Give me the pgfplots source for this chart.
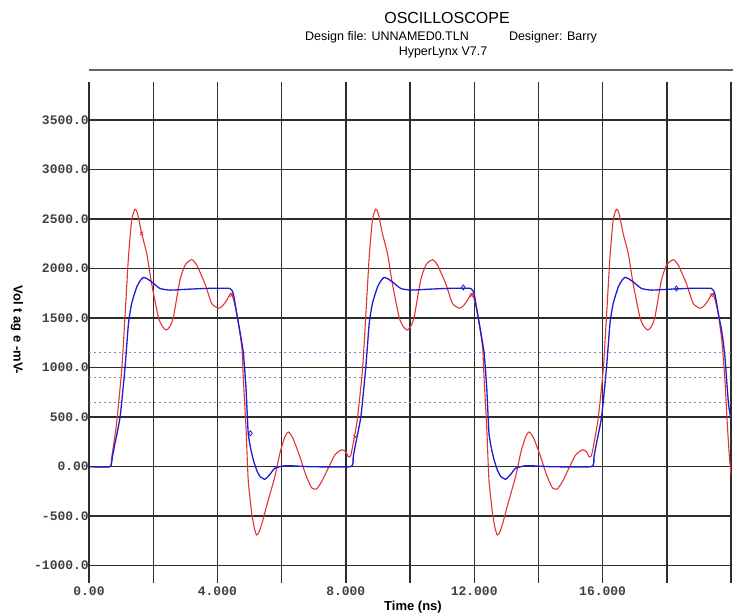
\documentclass[border=0pt]{standalone}
\usepackage{fontspec}
\setmainfont{Liberation Sans}
\setmonofont{Liberation Mono}
\usepackage{pgfplots}
\pgfplotsset{compat=1.18}

\definecolor{scopered}{RGB}{226,52,52}
\definecolor{scopeblue}{RGB}{28,28,210}
\definecolor{refblue}{RGB}{130,130,205}
\definecolor{gridgray}{RGB}{45,45,45}

\begin{document}
\begin{tikzpicture}
\useasboundingbox (0,0) rectangle (734pt,614pt);

% header
\node[font=\fontsize{16}{18}\selectfont] at (447pt,596pt) {OSCILLOSCOPE};
\node[font=\fontsize{12.5}{14}\selectfont] at (387pt,576.5pt) {Design file: UNNAMED0.TLN};
\node[font=\fontsize{12.5}{14}\selectfont] at (553pt,576.5pt) {Designer: Barry};
\node[font=\fontsize{12.5}{14}\selectfont] at (443pt,561pt) {HyperLynx V7.7};
\draw[black!60, line width=2pt] (89pt,544pt) -- (733pt,544pt);

\begin{axis}[
  at={(89pt,31pt)}, anchor=south west,
  scale only axis, width=642pt, height=501pt,
  xmin=0, xmax=20, ymin=-1175, ymax=3885,
  axis line style={draw=none},
  major tick length=0pt,
  xtick={0,2,...,20},
  xticklabels={0.00,,4.000,,8.000,,12.000,,16.000,,},
  ytick={-1000,-500,...,3500},
  yticklabels={-1000.0,-500.0,0.00,500.0,1000.0,1500.0,2000.0,2500.0,3000.0,3500.0},
  ticklabel style={font=\ttfamily\bfseries\fontsize{13}{14}\selectfont, text=black!75},
  xticklabel style={anchor=north, inner sep=0pt, yshift=-4pt},
  yticklabel style={anchor=east, inner sep=0pt},
  grid=major,
  major grid style={gridgray, line width=1.4pt},
  clip=true,
]

% threshold levels
\addplot[refblue, line width=0.8pt, dash pattern=on 2pt off 3pt] coordinates {(0,1150) (20,1150)};
\addplot[refblue, line width=0.8pt, dash pattern=on 2pt off 3pt] coordinates {(0,900) (20,900)};
\addplot[refblue, line width=0.8pt, dash pattern=on 2pt off 3pt] coordinates {(0,650) (20,650)};

% red probe (ringing)
\addplot[scopered, line width=1.1pt, smooth, tension=0.35] coordinates {
(0,0) (0.65,0) (0.71,100) (0.86,440) (1.02,980) (1.12,1510) (1.23,2120) (1.33,2490)
(1.43,2600) (1.51,2560) (1.64,2355) (1.80,2150) (1.95,1850) (2.16,1510) (2.28,1420)
(2.40,1380) (2.51,1410) (2.63,1510) (2.83,1880) (3.00,2040) (3.20,2090) (3.35,2040)
(3.61,1850) (3.82,1650) (4.03,1600) (4.15,1620) (4.29,1680) (4.44,1750) (4.60,1550)
(4.76,1210) (4.81,875) (4.89,400) (4.96,-135) (5.07,-470) (5.15,-620) (5.22,-690)
(5.30,-660) (5.40,-560) (5.53,-400) (5.79,-100) (5.95,140) (6.10,300) (6.21,350)
(6.35,290) (6.57,100) (6.75,-80) (6.94,-215) (7.09,-225) (7.25,-150) (7.40,-50)
(7.66,118) (7.87,170) (8.00,150) (8.08,100)
(8.15,110) (8.21,200) (8.36,480) (8.52,980) (8.62,1510) (8.73,2120) (8.83,2490)
(8.93,2600) (9.01,2560) (9.14,2355) (9.30,2150) (9.45,1850) (9.66,1510) (9.78,1420)
(9.90,1380) (10.01,1410) (10.13,1510) (10.33,1880) (10.50,2040) (10.70,2090) (10.85,2040)
(11.11,1850) (11.32,1650) (11.53,1600) (11.65,1620) (11.79,1680) (11.94,1750) (12.10,1550)
(12.26,1210) (12.31,875) (12.39,400) (12.46,-135) (12.57,-470) (12.65,-620) (12.72,-690)
(12.80,-660) (12.90,-560) (13.03,-400) (13.29,-100) (13.45,140) (13.60,300) (13.71,350)
(13.85,290) (14.07,100) (14.25,-80) (14.44,-215) (14.59,-225) (14.75,-150) (14.90,-50)
(15.16,118) (15.37,170) (15.50,150) (15.58,100)
(15.65,110) (15.71,200) (15.86,480) (16.02,980) (16.12,1510) (16.23,2120) (16.33,2490)
(16.43,2600) (16.51,2560) (16.64,2355) (16.80,2150) (16.95,1850) (17.16,1510) (17.28,1420)
(17.40,1380) (17.51,1410) (17.63,1510) (17.83,1880) (18.00,2040) (18.20,2090) (18.35,2040)
(18.61,1850) (18.82,1650) (19.03,1600) (19.15,1620) (19.29,1680) (19.44,1750) (19.60,1550)
(19.72,1250) (19.81,875) (19.89,400) (19.95,100) (20.00,-80)
};

% blue probe (settled)
\addplot[scopeblue, line width=1.3pt, smooth, tension=0.3] coordinates {
(0,0) (0.65,0) (0.73,100) (0.81,236) (0.97,505) (1.12,993) (1.23,1447) (1.33,1649)
(1.49,1817) (1.60,1880) (1.69,1911) (1.80,1900) (1.95,1867) (2.21,1800) (2.52,1783)
(2.95,1790) (3.65,1800) (4.39,1800) (4.50,1740) (4.60,1550) (4.71,1350) (4.81,1144)
(4.89,800) (4.96,337) (5.04,180) (5.12,68) (5.23,-40) (5.33,-100) (5.48,-127)
(5.63,-80) (5.79,-16) (6.05,7) (6.25,10) (6.85,0) (8.15,0)
(8.23,100) (8.31,236) (8.47,505) (8.62,993) (8.73,1447) (8.83,1649)
(8.99,1817) (9.10,1880) (9.19,1911) (9.30,1900) (9.45,1867) (9.71,1800) (10.02,1783)
(10.45,1790) (11.15,1800) (11.89,1800) (12.00,1740) (12.10,1550) (12.21,1350) (12.31,1144)
(12.39,800) (12.46,337) (12.54,180) (12.62,68) (12.73,-40) (12.83,-100) (12.98,-127)
(13.13,-80) (13.29,-16) (13.55,7) (13.75,10) (14.35,0) (15.65,0)
(15.73,100) (15.81,236) (15.97,505) (16.12,993) (16.23,1447) (16.33,1649)
(16.49,1817) (16.60,1880) (16.69,1911) (16.80,1900) (16.95,1867) (17.21,1800) (17.52,1783)
(17.95,1790) (18.65,1800) (19.39,1800) (19.50,1740) (19.60,1560) (19.72,1350) (19.81,1110)
(19.92,640) (20.00,480)
};

% probe markers
\addplot[scopered, only marks, mark=x, mark size=2.5pt, line width=0.8pt] coordinates {
(1.64,2355) (4.44,1730) (8.29,300) (11.92,1730) (19.40,1730)
};
\addplot[scopeblue, only marks, mark=diamond, mark size=2.5pt, line width=0.8pt] coordinates {
(5.03,337) (11.66,1810) (18.30,1800)
};
\end{axis}

% axis titles
\node[font=\bfseries\fontsize{13}{14}\selectfont] at (413pt,7pt) {Time (ns)};
\node[font=\bfseries\fontsize{13}{14}\selectfont, rotate=-90] at (17pt,284pt) {Vol t ag e -mV-};
\end{tikzpicture}
\end{document}
